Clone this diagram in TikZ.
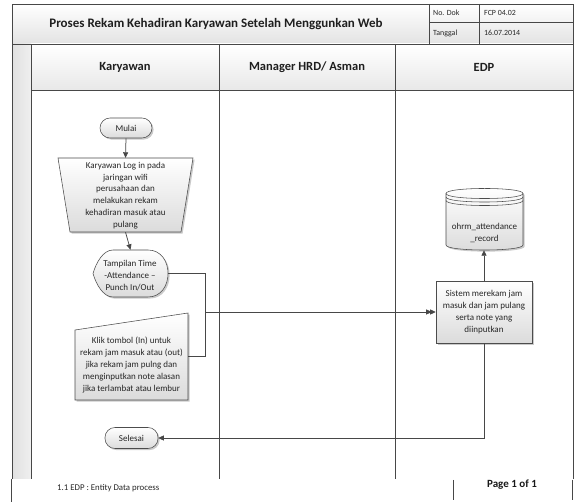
\documentclass[tikz,border=0pt]{standalone}
\usepackage{fontspec}
\setmainfont{Carlito}
\usetikzlibrary{arrows.meta,shadows}

\begin{document}
\begin{tikzpicture}[x=1pt,y=-1pt,
  frame/.style={draw=black!72,line width=0.6pt},
  flowbox/.style={draw=black!70,line width=0.55pt,top color=white,bottom color=black!14,
    drop shadow={shadow xshift=1.6pt,shadow yshift=-1.6pt,opacity=0.35,fill=black!60}},
  flowtext/.style={inner sep=0pt,align=center,font=\fontsize{9}{11.8}\selectfont,text=black!85},
  anchorbox/.style={inner sep=0pt,draw=none,fill=none},
  terminal/.style={flowbox,rounded corners=10pt,inner sep=0pt,
    font=\fontsize{9}{11}\selectfont,text=black!85},
  conn/.style={draw=black!72,line width=0.75pt},
  tip/.style={-{Triangle[length=5.5pt,width=5pt]}},
  lanehead/.style={font=\bfseries\fontsize{12.5}{14}\selectfont,text=black!88},
  cell/.style={font=\fontsize{7.9}{9}\selectfont,anchor=west,inner sep=0pt,text=black!85}
]
\useasboundingbox (0,0) rectangle (574,502);

% ---------- title block ----------
\fill[top color=white,bottom color=black!11] (12,4) rectangle (573,44);
\fill[top color=white,bottom color=black!9] (31,44) rectangle (573,90);
\fill[left color=black!12,right color=black!6] (12,44) rectangle (31,479);
\draw[frame] (12,4) rectangle (573,44);
\draw[frame] (429,4) -- (429,44);
\draw[frame] (479,4) -- (479,44);
\draw[frame] (429,22) -- (573,22);

\node[font=\bfseries\fontsize{13}{15}\selectfont,text=black!88] (title) at (216,24)
  {Proses Rekam Kehadiran Karyawan Setelah Menggunkan Web};
\node[cell] (nodok) at (433,13) {No. Dok};
\node[cell] (nodokv) at (484,13) {FCP 04.02};
\node[cell] (tgl) at (433,33) {Tanggal};
\node[cell] (tglv) at (484,33) {16.07.2014};

% ---------- swimlanes ----------
\draw[frame] (12,44) -- (12,479);
\draw[frame] (573,44) -- (573,479);
\draw[frame] (31,44) -- (31,479);
\draw[frame] (219,44) -- (219,479);
\draw[frame] (395,44) -- (395,479);
\draw[frame] (31,90) -- (573,90);

\node[lanehead] (laneA) at (125,67) {Karyawan};
\node[lanehead] (laneB) at (307,67) {Manager HRD/ Asman};
\node[lanehead] (laneC) at (484,67) {EDP};

% ---------- footer ----------
\draw[frame] (11,479) -- (11,502);
\draw[frame] (453,480) -- (453,500);
\draw[frame] (572,480) -- (572,500);
\node[font=\fontsize{8.8}{10}\selectfont,anchor=west,inner sep=0pt,text=black!85] (note) at (57,488)
  {1.1 EDP : Entity Data process};
\node[font=\bfseries\fontsize{11}{13}\selectfont,text=black!90] (page) at (512,485) {Page 1 of 1};

% ---------- flow shapes ----------
\node[terminal,minimum width=52,minimum height=20] (mulai) at (126,128) {Mulai};

% manual operation (inverted trapezium)
\path[flowbox] (58,158) -- (193,158) -- (181,232) -- (70,232) -- cycle;
\node[anchorbox,minimum width=135,minimum height=74] (login) at (125.5,195) {};
\node[flowtext] (logintxt) at (125.5,195.5)
  {Karyawan Log in pada\\jaringan wifi\\perusahaan dan\\melakukan rekam\\kehadiran masuk atau\\pulang};

% display
\path[flowbox] (148,297) -- (113,297) .. controls (103,297) and (96,284) .. (93,273.5)
  .. controls (96,263) and (103,250) .. (113,250) -- (148,250)
  .. controls (174.7,250) and (174.7,297) .. (148,297) -- cycle;
\node[anchorbox,minimum width=75,minimum height=47] (disp) at (130.5,273.5) {};
\node[flowtext] (disptxt) at (130,275.5) {Tampilan Time\\-Attendance --\\Punch In/Out};

% manual input
\path[flowbox] (75,330) -- (188,313) -- (188,400) -- (75,400) -- cycle;
\node[anchorbox,minimum width=113,minimum height=70] (klik) at (131.5,365) {};
\node[flowtext] (kliktxt) at (131.5,365)
  {Klik tombol (In) untuk\\rekam jam masuk atau (out)\\jika rekam jam pulng dan\\menginputkan note alasan\\jika terlambat atau lembur};

\node[terminal,minimum width=53,minimum height=21] (selesai) at (131.5,438) {Selesai};

% process
\node[flowbox,flowtext,rectangle,minimum width=96,minimum height=62] (proc) at (484,312)
  {Sistem merekam jam\\masuk dan jam pulang\\serta note yang\\diinputkan};

% database
\path[flowbox] (446,193.5) -- (446,245) .. controls (446,251.7) and (523,251.7) .. (523,245)
  -- (523,193.5) .. controls (523,186.8) and (446,186.8) .. (446,193.5) -- cycle;
\draw[draw=black!70,line width=0.55pt]
  (446,193.5) .. controls (446,200.2) and (523,200.2) .. (523,193.5)
  (446,197) .. controls (446,203.7) and (523,203.7) .. (523,197)
  (446,200.5) .. controls (446,207.2) and (523,207.2) .. (523,200.5);
\node[anchorbox,minimum width=77,minimum height=34] (db) at (484.5,233) {};
\node[flowtext] (dbtxt) at (484.5,233) {ohrm\_attendance\\\_record};

% ---------- connectors ----------
\coordinate (join) at (205,312);
\draw[conn,tip] (mulai.south) -- (login.north);
\draw[conn,tip] (login.south) -- (disp.north);
\draw[conn,tip] (disp.east) -| (join) -- (proc.west);
\draw[conn,tip,shorten >=4pt] ([yshift=9pt]klik.east) -| (join) -- (proc.west);
\draw[conn,tip] (proc.north) -- (proc.north |- db.south);
\draw[conn,tip] (proc.south) |- (selesai.east);
\end{tikzpicture}
\end{document}
